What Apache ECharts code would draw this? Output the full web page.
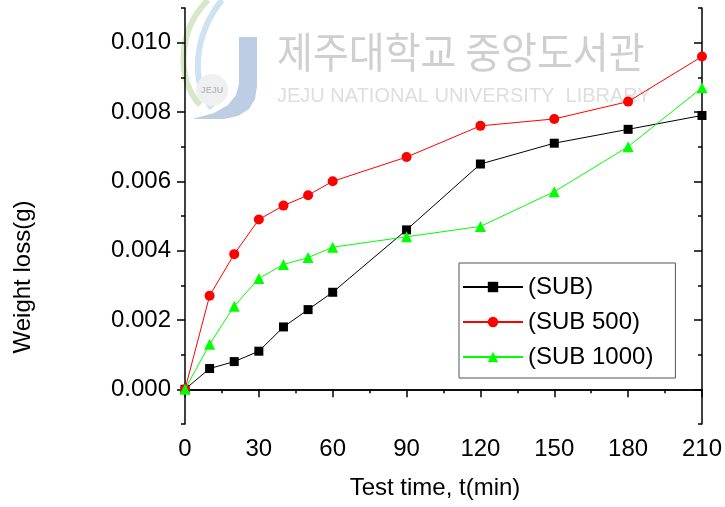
<!DOCTYPE html>
<html>
<head>
<meta charset="utf-8">
<script src="https://cdn.jsdelivr.net/npm/echarts@6/dist/echarts.min.js"></script>
<style>
  html, body { margin: 0; padding: 0; background: #fff; }
  #chart { width: 725px; height: 507px; }
</style>
</head>
<body>
<div id="chart"></div>
<script>
// Test time in minutes
const times = [0, 10, 20, 30, 40, 50, 60, 90, 120, 150, 180, 210];

// Weight loss (g) for each sample
const subValues     = [0, 0.0006, 0.0008, 0.0011, 0.0018, 0.0023, 0.0028, 0.0046, 0.0065, 0.0071, 0.0075, 0.0079];
const sub500Values  = [0, 0.0027, 0.0039, 0.0049, 0.0053, 0.0056, 0.0060, 0.0067, 0.0076, 0.0078, 0.0083, 0.0096];
const sub1000Values = [0, 0.0013, 0.0024, 0.0032, 0.0036, 0.0038, 0.0041, 0.0044, 0.0047, 0.0057, 0.0070, 0.0087];

const seriesNames = ['(SUB)', '(SUB 500)', '(SUB 1000)'];

// Axis ranges and tick positions
const xMin = 0, xMax = 210, xStep = 30;
const yMin = -0.001, yMax = 0.011;
const yMajorTicks = [0, 0.002, 0.004, 0.006, 0.008, 0.010];
const yMinorTicks = [-0.001, 0.001, 0.003, 0.005, 0.007, 0.009, 0.011];

const FONT = 'Liberation Sans, Arial, sans-serif';
const FONT_SIZE = 24;
const AXIS_LINE = { show: true, lineStyle: { color: '#000', width: 1.5 } };

function pairs(values) {
  return times.map((t, i) => [t, values[i]]);
}

function yAxisDef(position, ticks, length, inside, showLine, showLabels) {
  return {
    type: 'value', position: position, min: yMin, max: yMax,
    axisLine: showLine ? AXIS_LINE : { show: false },
    axisTick: { show: true, customValues: ticks, length: length, inside: inside,
                lineStyle: { color: '#000', width: 1.5 } },
    axisLabel: showLabels
      ? { show: true, customValues: ticks, formatter: v => v.toFixed(3),
          fontSize: FONT_SIZE, fontFamily: FONT, color: '#000', margin: 14 }
      : { show: false, customValues: ticks },
    splitLine: { show: false }
  };
}

function xAxisDef(position, inside, showLabels) {
  return {
    type: 'value', position: position, min: xMin, max: xMax, interval: xStep,
    axisLine: AXIS_LINE,
    axisTick: { show: true, length: 8, inside: inside, lineStyle: { color: '#000', width: 1.5 } },
    minorTick: { show: true, splitNumber: 2, length: 4, lineStyle: { color: '#000', width: 1.5 } },
    axisLabel: showLabels
      ? { show: true, fontSize: FONT_SIZE, fontFamily: FONT, color: '#000', margin: 13 }
      : { show: false },
    splitLine: { show: false }
  };
}

const chart = echarts.init(document.getElementById('chart'), null, { renderer: 'canvas' });

chart.setOption({
  animation: false,
  backgroundColor: '#fff',
  grid: { left: 185, right: 21, top: 8, bottom: 83, containLabel: false },
  xAxis: [
    xAxisDef('bottom', false, true),
    xAxisDef('top', true, false)
  ],
  yAxis: [
    yAxisDef('left', yMajorTicks, 8, false, true, true),
    yAxisDef('left', yMinorTicks, 4, false, false, false),
    yAxisDef('right', yMajorTicks, 8, true, true, false),
    yAxisDef('right', yMinorTicks, 4, true, false, false)
  ],
  legend: {
    orient: 'vertical',
    left: 459, top: 263,
    padding: [11, 22, 8, 3],
    itemGap: 9,
    itemWidth: 60, itemHeight: 13,
    borderColor: '#555', borderWidth: 1,
    backgroundColor: '#fff',
    textStyle: { fontSize: FONT_SIZE, fontFamily: FONT, color: '#000', lineHeight: 26 },
    data: seriesNames
  },
  graphic: [
    // library watermark
    {
      type: 'group', z: 0, silent: true,
      children: [
        { type: 'bezierCurve',
          shape: { x1: 208, y1: 0, cpx1: 178, cpy1: 30, cpx2: 176, cpy2: 78, x2: 200, y2: 105 },
          style: { fill: 'none', stroke: '#d6e8c8', lineWidth: 6 } },
        { type: 'bezierCurve',
          shape: { x1: 222, y1: 0, cpx1: 194, cpy1: 35, cpx2: 190, cpy2: 82, x2: 212, y2: 108 },
          style: { fill: 'none', stroke: '#cde3f0', lineWidth: 6 } },
        { type: 'polygon',
          shape: { points: [[239, 37], [257, 37], [257, 86], [255, 99], [249, 109], [238, 116],
                            [224, 119], [192, 119], [214, 113], [228, 105], [236, 95], [239, 84]] },
          style: { fill: '#bccde4' } },
        { type: 'circle', shape: { cx: 212, cy: 90, r: 16 }, style: { fill: '#eef0f2' } },
        { type: 'text', x: 212, y: 91, style: { text: 'JEJU', fontSize: 9, fontWeight: 'bold',
          fontFamily: FONT, fill: '#bdbdbd', align: 'center', verticalAlign: 'middle' } },
        { type: 'text', x: 277, y: 31, scaleY: 1.08,
          style: { text: '제주대학교 중앙도서관', fontSize: 39, fontFamily: 'Noto Sans CJK KR',
                   fill: '#cfcfcf' } },
        { type: 'text', x: 277, y: 86,
          style: { text: 'JEJU NATIONAL UNIVERSITY  LIBRARY', fontSize: 20, fontFamily: FONT,
                   fill: '#dedede' } }
      ]
    },
    // axis titles
    { type: 'text', x: 435, y: 488, z: 10,
      style: { text: 'Test time, t(min)', fontSize: FONT_SIZE, fontFamily: FONT, fill: '#000',
               align: 'center', verticalAlign: 'middle' } },
    { type: 'text', x: 23, y: 277, rotation: Math.PI / 2, z: 10,
      style: { text: 'Weight loss(g)', fontSize: FONT_SIZE, fontFamily: FONT, fill: '#000',
               align: 'center', verticalAlign: 'middle' } }
  ],
  series: [
    { name: seriesNames[0], type: 'line', data: pairs(subValues), xAxisIndex: 0, yAxisIndex: 0,
      symbol: 'rect', symbolSize: 9, z: 3,
      itemStyle: { color: '#000' }, lineStyle: { color: '#000', width: 1 } },
    { name: seriesNames[1], type: 'line', data: pairs(sub500Values), xAxisIndex: 0, yAxisIndex: 0,
      symbol: 'circle', symbolSize: 10, z: 4,
      itemStyle: { color: '#ff0000' }, lineStyle: { color: '#ff0000', width: 1 } },
    { name: seriesNames[2], type: 'line', data: pairs(sub1000Values), xAxisIndex: 0, yAxisIndex: 0,
      symbol: 'triangle', symbolSize: 11, z: 5,
      itemStyle: { color: '#00ff00' }, lineStyle: { color: '#00ff00', width: 1 } }
  ]
});
</script>
</body>
</html>
